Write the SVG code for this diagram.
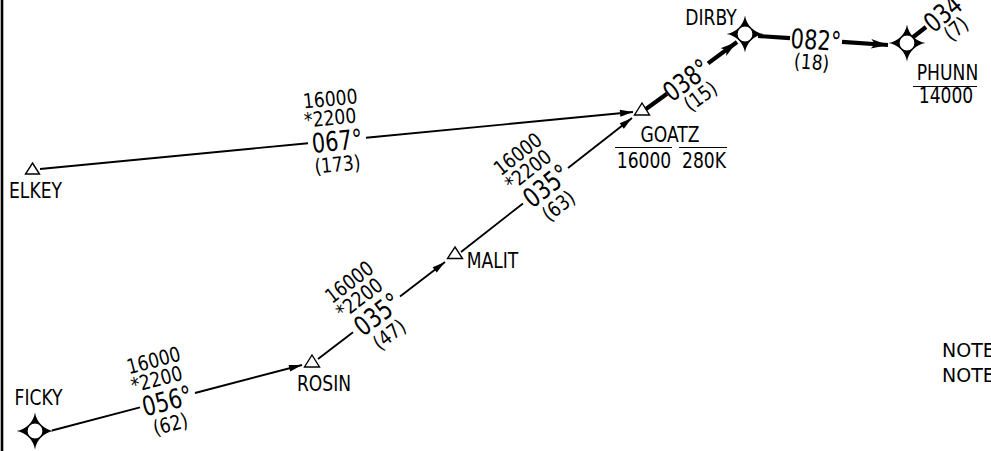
<svg xmlns="http://www.w3.org/2000/svg" width="991" height="451" viewBox="0 0 991 451">
<style>
text{font-family:"DejaVu Sans Condensed","DejaVu Sans","Liberation Sans",sans-serif;font-stretch:condensed;fill:#000}
.lbl{font-size:20.5px;text-anchor:middle}
.alt{font-size:20.5px;text-anchor:middle}
.brg{font-size:27px;text-anchor:middle}
.note{font-size:19px;font-stretch:normal;font-family:"DejaVu Sans",sans-serif}
.thin{stroke:#000;stroke-width:1.9;fill:none}
.thick{stroke:#000;stroke-width:4.2;fill:none}
.tri{fill:#fff;stroke:#000;stroke-width:1.4;stroke-linejoin:miter}
.ol{stroke:#000;stroke-width:1.2}
</style>
<defs>
<marker id="arr" markerUnits="userSpaceOnUse" markerWidth="16" markerHeight="10" viewBox="-14 -5 16 10" refX="0" refY="0" orient="auto">
<path d="M0,0 L-13,-3.4 L-13,3.4 Z" fill="#000"/>
</marker>
<marker id="arrT" markerUnits="userSpaceOnUse" markerWidth="20" markerHeight="12" viewBox="-18 -6 20 12" refX="0" refY="0" orient="auto">
<path d="M0,0 L-17,-4.8 L-13,0 L-17,4.8 Z" fill="#000"/>
</marker>
<g id="star">
<path d="M0,-18.5 C1.5,-9 9,-1.5 18.5,0 C9,1.5 1.5,9 0,18.5 C-1.5,9 -9,1.5 -18.5,0 C-9,-1.5 -1.5,-9 0,-18.5 Z" fill="#000"/>
<circle r="8" fill="#fff" stroke="#000" stroke-width="1.2"/>
</g>
</defs>
<rect width="991" height="451" fill="#fff"/>
<line x1="2" y1="0" x2="2" y2="451" stroke="#000" stroke-width="2.6"/>

<g id="connectors">
<line class="thin" x1="40" y1="169" x2="308" y2="143.2"/>
<line class="thin" x1="366" y1="137.7" x2="633" y2="112" marker-end="url(#arr)"/>
<line class="thin" x1="52" y1="430.5" x2="140" y2="407.4"/>
<line class="thin" x1="195" y1="393" x2="302" y2="365" marker-end="url(#arr)"/>
<line class="thin" x1="318" y1="359" x2="353" y2="332.3"/>
<line class="thin" x1="400" y1="296.4" x2="445" y2="262" marker-end="url(#arr)"/>
<line class="thin" x1="461" y1="252" x2="523" y2="203.4"/>
<line class="thin" x1="568" y1="168.1" x2="632" y2="118" marker-end="url(#arr)"/>
<line class="thick" x1="646" y1="109" x2="667" y2="93.7"/>
<line class="thick" x1="708" y1="63.4" x2="737" y2="42" marker-end="url(#arrT)"/>
<line class="thick" x1="758" y1="36" x2="790" y2="38.1"/>
<line class="thick" x1="842" y1="41.8" x2="888" y2="45" marker-end="url(#arrT)"/>
<line class="thick" x1="912" y1="38" x2="926" y2="27"/>
</g>

<g id="leg-elkey-goatz" transform="translate(337,140.5) rotate(-5.5) scale(0.93,1)">
<text class="alt" x="-3" y="-35">16000</text>
<text class="alt" x="-5" y="-16">*2200</text>
<text class="brg" transform="scale(0.93,1)" x="0" y="10">067°</text>
<text class="alt" x="-2" y="31">(173)</text>
</g>
<g id="leg-ficky-rosin" transform="translate(167,400.4) rotate(-14.7) scale(0.93,1)">
<text class="alt" x="-3" y="-35">16000</text>
<text class="alt" x="-5" y="-16">*2200</text>
<text class="brg" transform="scale(0.93,1)" x="0" y="10">056°</text>
<text class="alt" x="-3" y="31">(62)</text>
</g>
<g id="leg-rosin-malit" transform="translate(377,313.9) rotate(-37.4) scale(0.93,1)">
<text class="alt" x="-3" y="-35">16000</text>
<text class="alt" x="-5" y="-16">*2200</text>
<text class="brg" transform="scale(0.93,1)" x="0" y="10">035°</text>
<text class="alt" x="-3" y="31">(47)</text>
</g>
<g id="leg-malit-goatz" transform="translate(546,185.4) rotate(-38.1) scale(0.93,1)">
<text class="alt" x="-3" y="-35">16000</text>
<text class="alt" x="-5" y="-16">*2200</text>
<text class="brg" transform="scale(0.93,1)" x="0" y="10">035°</text>
<text class="alt" x="-3" y="31">(63)</text>
</g>
<g id="leg-goatz-dirby" transform="translate(686,79.7) rotate(-36.5) scale(0.93,1)">
<text class="brg" transform="scale(0.93,1)" x="0" y="10">038°</text>
<text class="alt" x="2" y="29">(15)</text>
</g>
<g id="leg-dirby-phunn" transform="translate(816,39.5) rotate(4) scale(0.93,1)">
<text class="brg" transform="scale(0.93,1)" x="0" y="10">082°</text>
<text class="alt" x="-3" y="30">(18)</text>
</g>
<g id="leg-phunn-out" transform="translate(927,26) rotate(-40) scale(0.93,1)">
<text class="brg" transform="scale(0.93,1)" x="0" y="10" style="text-anchor:start">034</text>
<text class="alt" x="22" y="28">(7)</text>
</g>

<g id="ELKEY">
<path class="tri" d="M32.5,163 L39.5,174 L25.5,174 Z"/>
<text class="lbl" transform="translate(35.5,198) scale(0.93,1)">ELKEY</text>
</g>
<g id="FICKY">
<use href="#star" x="35" y="431"/>
<text class="lbl" transform="translate(38.5,405) scale(0.93,1)">FICKY</text>
</g>
<g id="ROSIN">
<path class="tri" d="M312,355 L319.5,367 L304.5,367 Z"/>
<text class="lbl" transform="translate(324,391) scale(0.93,1)">ROSIN</text>
</g>
<g id="MALIT">
<path class="tri" d="M455,247 L462.5,258.5 L447.5,258.5 Z"/>
<text class="lbl" transform="translate(492.5,268) scale(0.93,1)">MALIT</text>
</g>
<g id="GOATZ">
<path class="tri" d="M642,103 L649.5,115 L634.5,115 Z"/>
<text class="lbl" transform="translate(670,142) scale(0.93,1)">GOATZ</text>
<line class="ol" x1="615" y1="147.5" x2="672" y2="147.5"/>
<line class="ol" x1="679" y1="147.5" x2="727" y2="147.5"/>
<text class="lbl" transform="translate(644,168) scale(0.93,1)">16000</text>
<text class="lbl" transform="translate(704,168) scale(0.93,1)">280K</text>
</g>
<g id="DIRBY">
<use href="#star" x="745" y="34"/>
<text class="lbl" transform="translate(711,25) scale(0.93,1)">DIRBY</text>
</g>
<g id="PHUNN">
<use href="#star" x="907" y="43"/>
<text class="lbl" transform="translate(947.5,80) scale(0.93,1)">PHUNN</text>
<line class="ol" x1="913" y1="86.5" x2="977" y2="86.5"/>
<text class="lbl" transform="translate(946,103) scale(0.93,1)">14000</text>
</g>
<g id="notes">
<text class="note" x="942" y="357">NOTE</text>
<text class="note" x="942" y="382">NOTE</text>
</g>
</svg>
